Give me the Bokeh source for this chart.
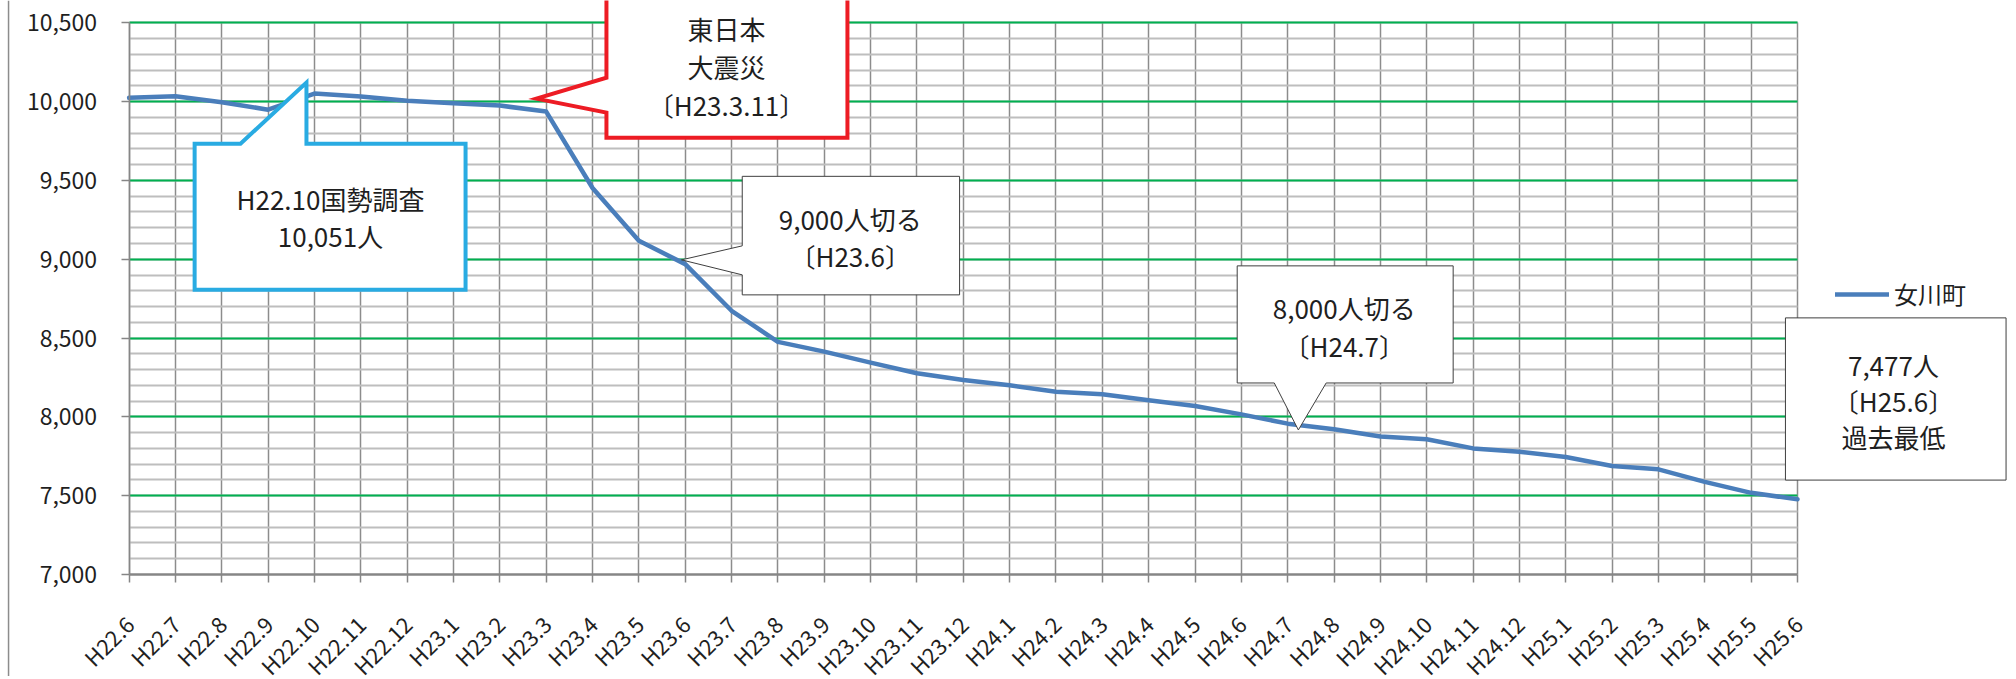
import math
from bokeh.plotting import figure
from bokeh.models import (Range1d, FixedTicker, SingleIntervalTicker, NumeralTickFormatter,
                          PolyAnnotation, Label, Legend, LegendItem)
from bokeh.embed import file_html
from bokeh.resources import INLINE

# ---------------- data ----------------
months = ["H22.6", "H22.7", "H22.8", "H22.9", "H22.10", "H22.11", "H22.12",
          "H23.1", "H23.2", "H23.3", "H23.4", "H23.5", "H23.6", "H23.7", "H23.8",
          "H23.9", "H23.10", "H23.11", "H23.12",
          "H24.1", "H24.2", "H24.3", "H24.4", "H24.5", "H24.6", "H24.7", "H24.8",
          "H24.9", "H24.10", "H24.11", "H24.12",
          "H25.1", "H25.2", "H25.3", "H25.4", "H25.5", "H25.6"]
population = [10024, 10034, 9996, 9949, 10051, 10032, 10006,
              9990, 9975, 9937, 9452, 9117, 8969, 8673, 8476,
              8414, 8344, 8277, 8234,
              8200, 8160, 8143, 8105, 8069, 8016, 7957, 7921,
              7875, 7858, 7800, 7779,
              7745, 7688, 7667, 7588, 7518, 7477]
series_name = "女川町"
y_min, y_max = 7000, 10500

FONT = "Noto Sans CJK JP"
TEXT = "#1F1F1F"

idx = list(range(len(months)))
last = len(months) - 1

# ---------------- layout (canvas pixels) ----------------
W, H = 2010, 676
LEFT_X = 128.6        # canvas x of the first category / y axis
RIGHT_X = 1797        # canvas x of the last category
AXIS_Y = 574          # canvas y of the x axis (7,000)
TOP_GRID = 22.3       # canvas y of the 10,500 line
# the frame fills the whole canvas; the axes sit at fixed data locations
ppx = (RIGHT_X - LEFT_X) / last
ppu = (AXIS_Y - TOP_GRID) / (y_max - y_min)
x_start = -LEFT_X / ppx
x_end = (W - LEFT_X) / ppx
y_end = y_max + TOP_GRID / ppu
y_start = y_min - (H - AXIS_Y) / ppu

p = figure(width=W, height=H, output_backend="svg", toolbar_location=None,
           x_range=Range1d(x_start, x_end), y_range=Range1d(y_start, y_end),
           min_border_left=0, min_border_right=0, min_border_top=0,
           min_border_bottom=0)
p.outline_line_color = None
p.background_fill_color = "white"
p.border_fill_color = "white"

# chart-area left border
p.add_layout(PolyAnnotation(xs=[7.3, 8.8, 8.8, 7.3], ys=[0, 0, H, H],
                            xs_units="canvas", ys_units="canvas",
                            fill_color="#8C8C8C", fill_alpha=1, line_color=None))

# grids
xt = FixedTicker(ticks=idx)
yt = SingleIntervalTicker(interval=500, num_minor_ticks=5)
xg = p.xgrid[0]
xg.ticker = xt
xg.bounds = (0, last)
xg.cross_bounds = (y_min, y_max)
xg.grid_line_color = "#8C8C8C"
xg.grid_line_width = 1.5
yg = p.ygrid[0]
yg.ticker = yt
yg.bounds = (y_min + 1, y_max)      # bottom edge is the gray axis line
yg.cross_bounds = (0, last)
yg.grid_line_color = "#00B050"
yg.grid_line_width = 2
yg.minor_grid_line_color = "#BEBEBE"
yg.minor_grid_line_width = 2

# axes
xax = p.xaxis[0]
xax.ticker = xt
xax.bounds = (0, last)
xax.fixed_location = y_min
xax.major_label_overrides = {i: m for i, m in enumerate(months)}
xax.major_label_orientation = math.pi / 4
xax.major_label_text_font = FONT
xax.major_label_text_font_size = "22px"
xax.major_label_text_color = TEXT
xax.major_label_standoff = 37
xax.axis_line_color = "#868686"
xax.axis_line_width = 2.5
xax.major_tick_line_color = "#868686"
xax.major_tick_line_width = 1.5
xax.major_tick_out = 8
xax.major_tick_in = 0
xax.minor_tick_line_color = None

yax = p.yaxis[0]
yax.ticker = yt
yax.bounds = (y_min, y_max)
yax.fixed_location = 0
yax.formatter = NumeralTickFormatter(format="0,0")
yax.major_label_text_font = FONT
yax.major_label_text_font_size = "23px"
yax.major_label_text_color = TEXT
yax.major_label_standoff = 24
yax.axis_line_color = "#868686"
yax.axis_line_width = 1.5
yax.major_tick_line_color = "#868686"
yax.major_tick_line_width = 1.5
yax.major_tick_out = 8
yax.major_tick_in = 0
yax.minor_tick_line_color = None

# data line
line = p.line(idx, population, line_color="#4A7EBB", line_width=4.5,
              line_join="round", line_cap="round")


def callout(xs, ys, color, width, cx, cy, lines, spacing):
    p.add_layout(PolyAnnotation(xs=xs, ys=ys, xs_units="data", ys_units="data",
                                fill_color="white", fill_alpha=1,
                                line_color=color, line_alpha=1, line_width=width,
                                line_join="miter"))
    n = len(lines)
    for k, t in enumerate(lines):
        off = ((n - 1) / 2 - k) * spacing
        p.add_layout(Label(x=cx, y=cy, y_offset=off, text=t, text_align="center",
                           text_baseline="middle", text_font=FONT,
                           text_font_size="26px", text_color=TEXT))


# annotations (positions in category-index / population units)
callout([1.414, 2.404, 3.827, 3.827, 7.26, 7.26, 1.414],
        [9733, 9733, 10121, 9733, 9733, 8806, 8806],
        "#29ABE2", 4, 4.345, 9268, ["H22.10国勢調査", "10,051人"], 37)
callout([10.30, 15.50, 15.50, 10.30, 10.30, 8.79, 10.30],
        [10720, 10720, 9771, 9771, 9930, 10019, 10152],
        "#ED1C24", 4, 12.89, 10222, ["東日本", "大震災", "〔H23.3.11〕"], 38)
callout([13.23, 17.92, 17.92, 13.23, 13.23, 11.92, 13.23],
        [9526, 9526, 8774, 8774, 8901, 8996, 9085],
        "#3F3F3F", 1, 15.56, 9139, ["9,000人切る", "〔H23.6〕"], 37)
callout([23.91, 28.57, 28.57, 25.83, 25.23, 24.71, 23.91],
        [8958, 8958, 8215, 8215, 7917, 8215, 8215],
        "#3F3F3F", 1, 26.22, 8571, ["8,000人切る", "〔H24.7〕"], 38)
callout([35.74, 40.5, 40.5, 35.74],
        [8628, 8628, 7599, 7599],
        "#3F3F3F", 1, 38.07, 8107, ["7,477人", "〔H25.6〕", "過去最低"], 36)

legend = Legend(items=[LegendItem(label=series_name, renderers=[line])],
                location=(1835, H - 296 - 15), glyph_width=54, glyph_height=30,
                label_height=30, label_standoff=5, padding=0, margin=0,
                border_line_color=None, background_fill_alpha=0,
                label_text_font=FONT, label_text_font_size="24px",
                label_text_color=TEXT)
p.add_layout(legend)

open("out.html", "w").write(file_html(p, INLINE))
